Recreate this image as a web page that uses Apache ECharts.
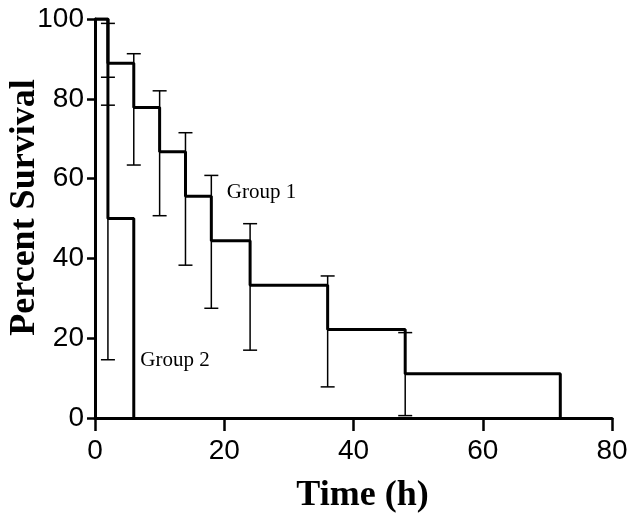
<!DOCTYPE html>
<html>
<head>
<meta charset="utf-8">
<script src="https://cdn.jsdelivr.net/npm/echarts@6/dist/echarts.min.js"></script>
<style>
  html, body { margin: 0; padding: 0; background: #fff; }
  #chart { width: 636px; height: 521px; }
</style>
</head>
<body>
<div id="chart"></div>
<script>
// survival curves (time in h, percent survival)
const group1Time = [0, 2, 6, 10, 14, 18, 24, 36, 48, 72];
const group1Surv = [100, 88.9, 77.8, 66.7, 55.6, 44.4, 33.3, 22.2, 11.1, 0];
const group2Time = [0, 2, 6];
const group2Surv = [100, 50, 0];

// error bars at each event
const group1ErrTime = [2, 6, 10, 14, 18, 24, 36, 48];
const group1ErrLow = [78.4, 63.4, 50.7, 38.3, 27.5, 17.0, 7.8, 0.6];
const group1ErrHigh = [98.9, 91.3, 82.0, 71.5, 60.8, 48.7, 35.6, 21.4];
const group2ErrTime = [2];
const group2ErrLow = [14.6];
const group2ErrHigh = [85.4];

// annotation labels
const labelNames = ["Group 1", "Group 2"];
const labelTime = [20.4, 7.0];
const labelSurv = [56.5, 14.5];

const xTicks = [0, 20, 40, 60, 80];
const yTicks = [0, 20, 40, 60, 80, 100];

const tickFont = "'Liberation Sans Narrow', 'Liberation Sans', Arial, sans-serif";
const serifFont = "'Liberation Serif', 'Times New Roman', serif";

const chart = echarts.init(document.getElementById("chart"));

function zip(a, b) {
  return a.map((v, i) => [v, b[i]]);
}

function errItem(params, api) {
  const x = api.value(0);
  const lo = api.coord([x, api.value(1)]);
  const hi = api.coord([x, api.value(2)]);
  const w = 7;
  const style = { stroke: "#000", lineWidth: 1.5 };
  return {
    type: "group",
    children: [
      { type: "line", shape: { x1: lo[0], y1: lo[1], x2: hi[0], y2: hi[1] }, style },
      { type: "line", shape: { x1: lo[0] - w, y1: lo[1], x2: lo[0] + w, y2: lo[1] }, style },
      { type: "line", shape: { x1: hi[0] - w, y1: hi[1], x2: hi[0] + w, y2: hi[1] }, style },
    ],
  };
}

const option = {
  animation: false,
  backgroundColor: "#fff",
  grid: { left: 95, right: 24, top: 19, bottom: 103, containLabel: false, outerBoundsMode: "none" },
  xAxis: {
    type: "value",
    min: xTicks[0],
    max: xTicks[xTicks.length - 1],
    interval: 20,
    name: "Time (h)",
    nameLocation: "middle",
    nameGap: 60,
    nameMoveOverlap: false,
    nameTextStyle: {
      fontFamily: serifFont,
      fontWeight: "bold",
      fontSize: 36,
      color: "#000",
      padding: [0, 0, 0, 18],
    },
    splitLine: { show: false },
    axisLine: { lineStyle: { color: "#000", width: 3 } },
    axisTick: { length: 13, lineStyle: { color: "#000", width: 2.5 } },
    axisLabel: { color: "#000", fontFamily: tickFont, fontSize: 28, margin: 19 },
  },
  yAxis: {
    type: "value",
    min: yTicks[0],
    max: yTicks[yTicks.length - 1],
    interval: 20,
    name: "Percent Survival",
    nameLocation: "middle",
    nameGap: 52,
    nameMoveOverlap: false,
    nameTextStyle: {
      fontFamily: serifFont,
      fontWeight: "bold",
      fontSize: 36,
      color: "#000",
      padding: [0, 0, 0, 22],
    },
    splitLine: { show: false },
    axisLine: { lineStyle: { color: "#000", width: 3 } },
    axisTick: { length: 8, lineStyle: { color: "#000", width: 2.5 } },
    axisLabel: { color: "#000", fontFamily: tickFont, fontSize: 28, margin: 11 },
  },
  series: [
    {
      name: "Group 1",
      type: "line",
      step: "end",
      symbol: "none",
      data: zip(group1Time, group1Surv),
      lineStyle: { color: "#000", width: 3 },
    },
    {
      name: "Group 2",
      type: "line",
      step: "end",
      symbol: "none",
      data: zip(group2Time, group2Surv),
      lineStyle: { color: "#000", width: 3 },
    },
    {
      type: "custom",
      renderItem: errItem,
      data: group1ErrTime.map((t, i) => [t, group1ErrLow[i], group1ErrHigh[i]]),
      z: 3,
    },
    {
      type: "custom",
      renderItem: errItem,
      data: group2ErrTime.map((t, i) => [t, group2ErrLow[i], group2ErrHigh[i]]),
      z: 3,
    },
    {
      type: "scatter",
      symbolSize: 0,
      itemStyle: { opacity: 1 },
      data: labelNames.map((n, i) => ({ name: n, value: [labelTime[i], labelSurv[i]] })),
      label: {
        show: true,
        position: "right",
        distance: 0,
        formatter: "{b}",
        fontFamily: serifFont,
        fontSize: 21,
        color: "#000",
      },
    },
  ],
};

chart.setOption(option);
</script>
</body>
</html>
